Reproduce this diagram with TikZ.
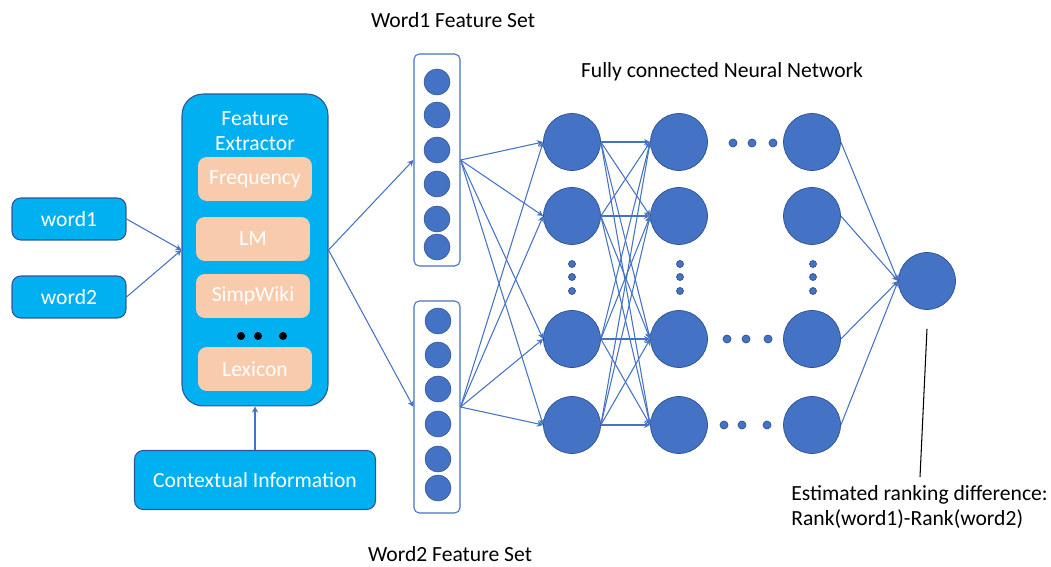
\documentclass[tikz,border=0pt]{standalone}
\usepackage{fontspec}
\setmainfont{Carlito}
\usetikzlibrary{arrows.meta,positioning}
\definecolor{boxcyan}{HTML}{00B0F0}
\definecolor{boxedge}{HTML}{2F5597}
\definecolor{featorange}{HTML}{F8CBAD}
\definecolor{neuron}{HTML}{4472C4}
\definecolor{neuronedge}{HTML}{2F528F}
\begin{document}
\begin{tikzpicture}[x=0.02cm, y=-0.02cm, font=\fontsize{12.3}{14.5}\selectfont, line join=round, >={Stealth[length=3.5pt,width=3.5pt]},
		bluebox/.style={draw=boxedge, fill=boxcyan, text=white, line width=0.6pt, rounded corners=5pt},
		featbox/.style={fill=featorange, text=white, rounded corners=5pt, minimum width=2.28cm, minimum height=0.88cm},
		setbox/.style={draw=neuron, line width=0.6pt, rounded corners=3pt, minimum width=0.92cm, minimum height=4.24cm},
		setdot/.style={circle, fill=neuron, draw=neuronedge, line width=0.3pt, minimum size=0.52cm, inner sep=0pt},
		neuron/.style={circle, fill=neuron, draw=neuronedge, line width=0.4pt, minimum size=1.14cm, inner sep=0pt},
		link/.style={->, draw=neuron, line width=0.6pt}]
	\useasboundingbox (0,0) rectangle (1051,567);
	\node[bluebox, minimum width=2.28cm, minimum height=0.84cm] (w1) at (69,219) {word1};
	\node[bluebox, minimum width=2.28cm, minimum height=0.84cm] (w2) at (69,297) {word2};
	\node[bluebox, rounded corners=12pt, minimum width=2.92cm, minimum height=6.24cm] (fe) at (255,250) {};
	\node[text=white, align=center] (fetitle) at (255,131) {Feature\\Extractor};
	\node[featbox] (freq) at (255,179) {Frequency};
	\node[featbox] (lm) at (253,239) {LM};
	\node[featbox] (wiki) at (253,296) {SimpWiki};
	\node[featbox] (lex) at (255,369) {Lexicon};
	\foreach \x in {241,258,283} \fill (\x,336) circle (0.08cm);
	\node[bluebox, minimum width=4.82cm, minimum height=1.18cm] (ctx) at (255,480) {Contextual Information};
	\draw[link] (w1.east) -- (fe.west);
	\draw[link] (w2.east) -- (fe.west);
	\draw[link] (ctx.north) -- (fe.south);
	\node[setbox] (set1) at (437,160) {};
	\node[setbox] (set2) at (437,407) {};
	\foreach \y [count=\i] in {82,115,150,184,219,247} \node[setdot] (a\i) at (437,\y) {};
	\foreach \y [count=\i] in {321,355,389,424,459,488} \node[setdot] (b\i) at (438,\y) {};
	\draw[link] (fe.east) -- (set1.west);
	\draw[link] (fe.east) -- (set2.west);
	\node (t1) at (453,20) {Word1 Feature Set};
	\node[inner sep=1pt] (t2) at (450,554) {Word2 Feature Set};
	\node (tnn) at (722,72) {Fully connected Neural Network};
	\foreach \y [count=\i] in {142,216,339,425} {
		\node[neuron] (h\i) at (572,\y) {};
		\node[neuron] (g\i) at (679,\y) {};
		\node[neuron] (k\i) at (812,\y) {};
	}
	\node[neuron] (out) at (927,281) {};
	\foreach \j in {1,...,4} {
		\draw[link] (set1.east) -- (h\j.west);
		\draw[link] (set2.east) -- (h\j.west);
		\draw[link] (k\j.east) -- (out.west);
		\foreach \i in {1,...,4} \draw[link] (h\i.east) -- (g\j.west);
	}
	\foreach \x in {572,680,813} \foreach \y in {264,277,291} \fill[neuron] (\x,\y) circle (0.07cm);
	\foreach \x in {733,752,773} \fill[neuron] (\x,143) circle (0.08cm);
	\foreach \x in {727,746,768} \fill[neuron] (\x,339) circle (0.08cm);
	\foreach \x in {724,742,767} \fill[neuron] (\x,425) circle (0.08cm);
	\node[anchor=north west, align=left, inner sep=0pt] (est) at (791,485) {Estimated ranking difference:\\Rank(word1)-Rank(word2)};
	\coordinate (estend) at (920,477);
	\draw[line width=0.6pt] ([yshift=-0.38cm]out.south) -- (estend);
\end{tikzpicture}
\end{document}
